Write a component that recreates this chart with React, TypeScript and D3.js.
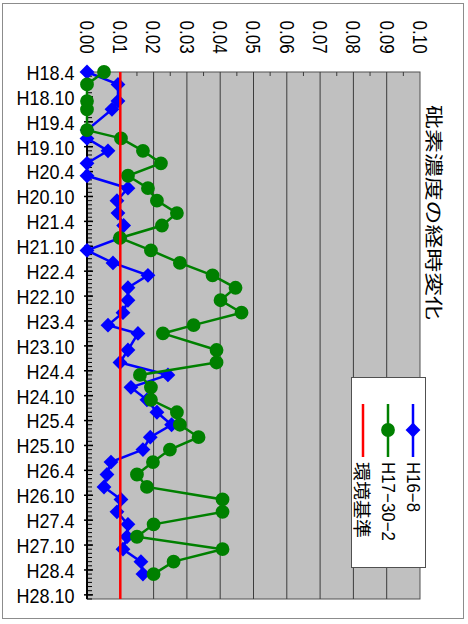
import React from "react";
import * as d3 from "d3";

// 採水日（和暦 年.月）
const dates = [
  "H18.4", "H18.7", "H18.11", "H19.1", "H19.6", "H19.8", "H19.11", "H20.2",
  "H20.5", "H20.8", "H20.11", "H21.2", "H21.5", "H21.8", "H21.11", "H22.2",
  "H22.5", "H22.8", "H22.11", "H23.2", "H23.5", "H23.7", "H23.11", "H24.2",
  "H24.5", "H24.8", "H24.11", "H25.2", "H25.5", "H25.8", "H25.11", "H26.2",
  "H26.5", "H26.8", "H26.11", "H27.2", "H27.5", "H27.8", "H27.11", "H28.2",
  "H28.5",
];

const h16_8 = [
  0, 0.0093, 0.0093, 0.0075, 0, 0, 0.0063, 0, 0, 0.0123, 0.009, 0.0093, 0.011,
  0.0099, 0, 0.0078, 0.0183, 0.0123, 0.0123, 0.0108, 0.0063, 0.0153, 0.0123,
  0.0099, 0.0243, 0.0132, 0.018, 0.021, 0.0254, 0.019, 0.0168, 0.0072, 0.006,
  0.0051, 0.0102, 0.009, 0.0123, 0.012, 0.0108, 0.0162, 0.0168,
];

const h17_30_2 = [
  0.0051, 0, 0, 0, 0, 0.0102, 0.0168, 0.0222, 0.0123, 0.0183, 0.021, 0.027,
  0.0225, 0.0099, 0.0192, 0.0279, 0.0377, 0.0446, 0.0401, 0.0464, 0.032,
  0.0228, 0.0389, 0.0389, 0.0159, 0.0192, 0.0192, 0.027, 0.0279, 0.0335,
  0.0249, 0.0198, 0.015, 0.018, 0.0407, 0.0407, 0.02, 0.015, 0.0407, 0.026,
  0.02,
];

const standard = 0.01;

const axisLabels = [
  "H18.4", "H18.10", "H19.4", "H19.10", "H20.4", "H20.10", "H21.4", "H21.10",
  "H22.4", "H22.10", "H23.4", "H23.10", "H24.4", "H24.10", "H25.4", "H25.10",
  "H26.4", "H26.10", "H27.4", "H27.10", "H28.4", "H28.10",
];

const valueTicks = [0, 0.01, 0.02, 0.03, 0.04, 0.05, 0.06, 0.07, 0.08, 0.09, 0.1];

const seriesNames = ["H16−8", "H17−30−2", "環境基準"];

// H18.4 を 0 とした月数
const toMonth = (s: string) => {
  const [y, m] = s.slice(1).split(".").map(Number);
  return (y - 18) * 12 + (m - 4);
};

const W = 468;
const H = 624;
const plot = { left: 87, right: 420, top: 72, bottom: 599 };
const LATIN = "'Liberation Sans', Arial, sans-serif";
const CJK = "'Noto Sans CJK JP', sans-serif";

export default function App() {
  const x = d3.scaleLinear().domain([0, 0.1]).range([plot.left, plot.right]);
  const y = d3.scaleLinear().domain([0, 127]).range([plot.top, plot.bottom]);

  const line = d3
    .line<number>()
    .x((d) => x(d))
    .y((_, i) => y(toMonth(dates[i])));

  const diamond = d3.symbol().type(d3.symbolSquare).size(110)()!;
  const circle = d3.symbol().type(d3.symbolCircle).size(150)()!;
  const minorMonths = d3.range(0, 128);
  const minorValues = d3.range(0.005, 0.1, 0.01);

  return (
    <svg
      width={W}
      height={H}
      viewBox={`0 0 ${W} ${H}`}
      style={{ position: "absolute", left: 0, top: 0, background: "#fff" }}
    >
      <rect x={2.5} y={3.5} width={461} height={615} fill="#fff" stroke="#8c8c8c" />

      {/* プロットエリア */}
      <rect
        x={plot.left}
        y={plot.top}
        width={plot.right - plot.left}
        height={plot.bottom - plot.top}
        fill="#c0c0c0"
        stroke="#505050"
      />
      {valueTicks.slice(1, -1).map((v) => (
        <line key={v} x1={x(v)} x2={x(v)} y1={plot.top} y2={plot.bottom} stroke="#3c3c3c" strokeWidth={1} />
      ))}
      {minorValues.map((v) => (
        <line key={v} x1={x(v)} x2={x(v)} y1={plot.top} y2={plot.top + 4} stroke="#3c3c3c" />
      ))}

      {/* 数値軸ラベル（回転） */}
      {valueTicks.map((v) => (
        <text
          key={v}
          transform={`translate(${x(v)},20.5) rotate(90) scale(0.81,1)`}
          dominantBaseline="central"
          style={{ fontFamily: LATIN, fontSize: 21, fill: "#000" }}
        >
          {v.toFixed(2)}
        </text>
      ))}

      {/* 項目軸 */}
      <line x1={plot.left} x2={plot.left} y1={plot.top} y2={plot.bottom} stroke="#000" strokeWidth={2} />
      {minorMonths.map((m) => (
        <line key={m} x1={plot.left} x2={plot.left + 5} y1={y(m)} y2={y(m)} stroke="#000" strokeWidth={1} />
      ))}
      {axisLabels.map((s) => (
        <g key={s}>
          <line x1={plot.left - 3} x2={plot.left + 6} y1={y(toMonth(s))} y2={y(toMonth(s))} stroke="#000" strokeWidth={1.5} />
          <text
            transform={`translate(74.5,${y(toMonth(s)) + 1}) scale(0.9,1)`}
            textAnchor="end"
            dominantBaseline="central"
            style={{ fontFamily: LATIN, fontSize: 20, fill: "#000" }}
          >
            {s}
          </text>
        </g>
      ))}

      {/* H16-8 */}
      <path d={line(h16_8)!} fill="none" stroke="#0000ff" strokeWidth={2.5} />
      {h16_8.map((v, i) => (
        <path
          key={i}
          d={diamond}
          transform={`translate(${x(v)},${y(toMonth(dates[i]))}) rotate(45)`}
          fill="#0000ff"
        />
      ))}

      {/* H17-30-2 */}
      <path d={line(h17_30_2)!} fill="none" stroke="#008000" strokeWidth={2.5} />
      {h17_30_2.map((v, i) => (
        <path key={i} d={circle} transform={`translate(${x(v)},${y(toMonth(dates[i]))})`} fill="#008000" />
      ))}

      {/* 環境基準 */}
      <line x1={x(standard)} x2={x(standard)} y1={plot.top} y2={plot.bottom} stroke="#ff0000" strokeWidth={2.5} />

      {/* タイトル */}
      <text
        transform="translate(435,105) rotate(90)"
        dominantBaseline="central"
        textLength={215}
        lengthAdjust="spacingAndGlyphs"
        style={{ fontFamily: CJK, fontSize: 18, fill: "#000" }}
      >
        砒素濃度の経時変化
      </text>

      {/* 凡例 */}
      <rect x={351.5} y={377.5} width={74} height={190} fill="#fff" stroke="#505050" />
      {seriesNames.map((name, i) => {
        const cx = 413 - i * 25;
        const color = ["#0000ff", "#008000", "#ff0000"][i];
        return (
          <g key={name}>
            <line x1={cx} x2={cx} y1={404} y2={457} stroke={color} strokeWidth={2.5} />
            {i === 0 && <path d={diamond} transform={`translate(${cx},430) rotate(45)`} fill={color} />}
            {i === 1 && <path d={circle} transform={`translate(${cx},430)`} fill={color} />}
            <text
              transform={`translate(${cx},462) rotate(90)`}
              dominantBaseline="central"
              textLength={[50, 79, 76][i]}
              lengthAdjust="spacingAndGlyphs"
              style={{ fontFamily: i === 2 ? CJK : LATIN, fontSize: 18, fill: "#000" }}
            >
              {name}
            </text>
          </g>
        );
      })}
    </svg>
  );
}
